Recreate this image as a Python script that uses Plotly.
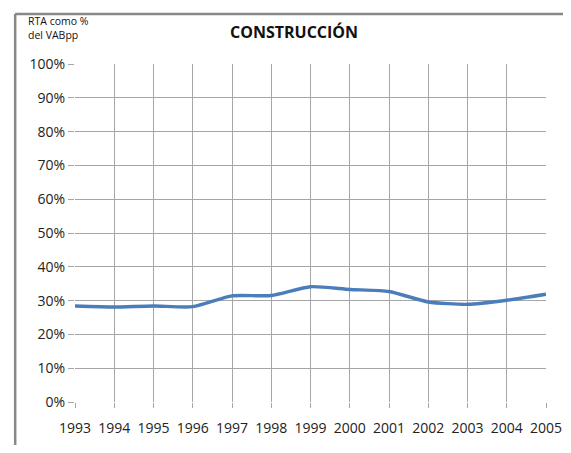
import plotly.graph_objects as go

years = [1993, 1994, 1995, 1996, 1997, 1998, 1999, 2000, 2001, 2002, 2003, 2004, 2005]
rta_pct = [0.284, 0.281, 0.284, 0.282, 0.314, 0.315, 0.341, 0.333, 0.327, 0.296, 0.289, 0.301, 0.319]
title_text = "CONSTRUCCIÓN"
ylabel_text = "RTA como %<br>del VABpp"

grid = "#a6a6a6"
font_fam = "Open Sans, Liberation Sans, Arial, sans-serif"

fig = go.Figure()
fig.add_trace(go.Scatter(
    x=years, y=rta_pct, mode="lines",
    line=dict(color="#4a7ebb", width=3.4, shape="spline", smoothing=0.6),
    showlegend=False, hoverinfo="skip",
))

fig.update_layout(
    width=555, height=437,
    margin=dict(l=67, r=17, t=56, b=43),
    paper_bgcolor="white", plot_bgcolor="white",
    font=dict(family=font_fam, color="#222222"),
    xaxis=dict(
        range=[1993, 2005], tickmode="array", tickvals=years,
        ticktext=[str(y) for y in years],
        showgrid=True, gridcolor=grid, gridwidth=1,
        zeroline=False, showline=False, automargin=False,
        ticks="outside", ticklen=5, tickcolor=grid,
        tickfont=dict(size=14, color="#222222"), ticklabelstandoff=8,
    ),
    yaxis=dict(
        range=[0, 1], tickmode="array",
        tickvals=[i / 10 for i in range(11)],
        ticktext=[f"{i*10}%" for i in range(11)],
        showgrid=True, gridcolor=grid, gridwidth=1,
        zeroline=False, showline=False, automargin=False,
        ticks="outside", ticklen=6, tickcolor=grid,
        tickfont=dict(size=14, color="#222222"),
    ),
    annotations=[
        dict(text="<b>" + title_text + "</b>", xref="paper", yref="paper",
             x=0.465, y=1.0, yshift=32, xanchor="center", yanchor="middle",
             showarrow=False, font=dict(size=16, color="#111111", family=font_fam)),
        dict(text=ylabel_text, xref="paper", yref="paper",
             x=-0.105, y=1.0, yshift=36, xanchor="left", yanchor="middle",
             align="left", showarrow=False,
             font=dict(size=10.5, color="#111111", family=font_fam)),
    ],
    shapes=[
        dict(type="line", xref="paper", yref="paper",
             x0=-0.127, x1=1.2, y0=1.148, y1=1.148,
             line=dict(color="#888888", width=2.5), layer="below"),
        dict(type="line", xref="paper", yref="paper",
             x0=-0.127, x1=-0.127, y0=-0.3, y1=1.148,
             line=dict(color="#888888", width=2.5), layer="below"),
    ],
)

fig.write_html("out.html", config={"displayModeBar": False})
